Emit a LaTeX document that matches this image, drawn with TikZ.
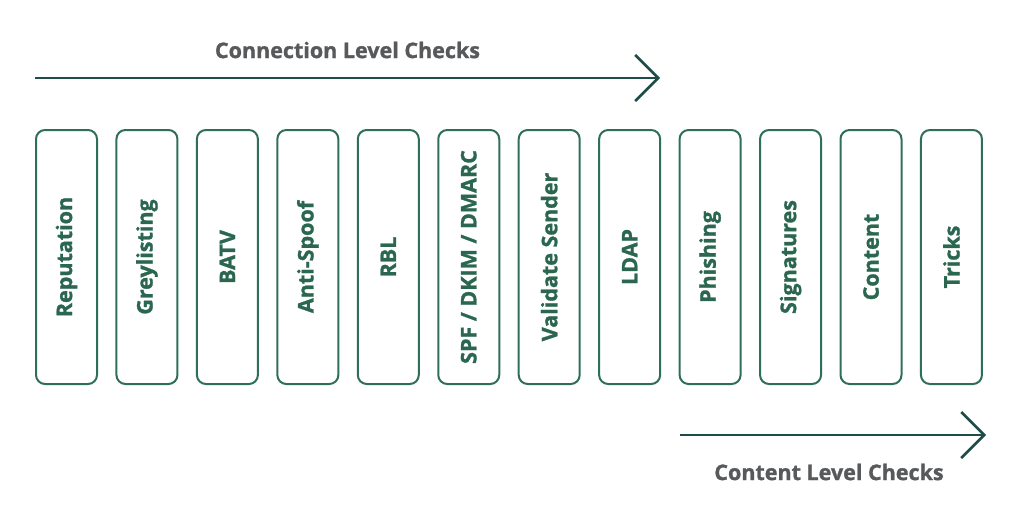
\documentclass[tikz,border=0pt]{standalone}
\usepackage{fontspec}
\setmainfont{Open Sans}[BoldFeatures={FakeBold=1.2}]
\usetikzlibrary{arrows.meta}
\definecolor{boxgreen}{HTML}{2F6E5C}
\definecolor{txtgreen}{HTML}{2A6650}
\definecolor{arrowc}{HTML}{1E4D47}
\definecolor{gtext}{HTML}{58595B}
\tikzset{
  chk/.style={draw=boxgreen, line width=2pt, rounded corners=9pt, rotate=90,
    minimum width=254pt, minimum height=61pt, inner sep=0pt,
    text=txtgreen, font=\fontsize{21.5}{24}\selectfont\bfseries},
  flow/.style={draw=arrowc, line width=2.5pt,
    -{Straight Barb[length=23pt,width=46pt,line width=2.5pt]}},
  lvl/.style={text=gtext, font=\fontsize{21.5}{24}\selectfont\bfseries, inner sep=0pt}
}
\begin{document}
\begin{tikzpicture}[x=1pt,y=-1pt]
\useasboundingbox (0,0) rectangle (1030,514);
\foreach \t [count=\i from 0] in {Reputation,Greylisting,BATV,Anti-Spoof,RBL,SPF / DKIM / DMARC,Validate Sender,LDAP,Phishing,Signatures,Content,Tricks}{
  \node[chk] (b\i) at (66.5+80.45*\i,257) {\t};
}
\coordinate (t1) at (35,78);
\coordinate (t2) at (660,78);
\draw[flow] (t1) -- (t2);
\node[lvl] (tl) at (347.5,50) {Connection Level Checks};
\coordinate (c1) at (680,435);
\coordinate (c2) at (986,435);
\draw[flow] (c1) -- (c2);
\node[lvl] (cl) at (829,472) {Content Level Checks};
\end{tikzpicture}
\end{document}
